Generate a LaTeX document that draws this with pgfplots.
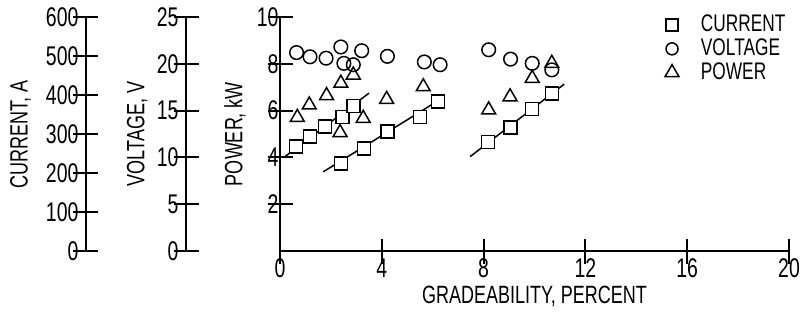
\documentclass[border=0pt]{standalone}
\usepackage{pgfplots}
\pgfplotsset{compat=1.18}
\usepackage{fontspec}
\setmainfont{Liberation Sans}[FakeStretch=0.72]
\begin{document}
\begin{tikzpicture}
\pgfplotsset{
  common/.style={
    scale only axis, height=117pt,
    tick align=inside, major tick length=12.5pt,
    tick style={line width=1pt, black},
    axis line style={-, line width=1pt},
    /pgf/number format/assume math mode=true,
    tick label style={font=\fontsize{13.5}{13.5}\selectfont},
    yticklabel style={xshift=9pt},
    xticklabel style={yshift=6pt},
    label style={font=\fontsize{12.5}{13}\selectfont},
  },
  sideaxis/.style={
    common, width=12.5pt, xmin=0, xmax=1,
    axis y line=left, hide x axis, y axis line style={-},
    yticklabel style={xshift=-3pt},
  },
  overlay/.style={
    scale only axis, width=254.5pt, height=117pt,
    at={(140pt,31pt)}, anchor=south west,
    xmin=0, xmax=20, hide axis, clip=false,
  },
}
\path[use as bounding box] (0,0) rectangle (401pt,156.5pt);
% current scale
\begin{axis}[sideaxis, at={(43pt,31pt)}, anchor=south west,
  ymin=0, ymax=600, ytick={0,100,...,600},
  ylabel={CURRENT, A},
  ylabel style={at={(axis description cs:-2.62,0.5)}, anchor=center}]
\end{axis}
% voltage scale
\begin{axis}[sideaxis, at={(93pt,31pt)}, anchor=south west,
  ymin=0, ymax=25, ytick={0,5,...,25},
  ylabel={VOLTAGE, V},
  ylabel style={at={(axis description cs:-1.95,0.5)}, anchor=center}]
\end{axis}
% main power axis
\begin{axis}[common, at={(140pt,31pt)}, anchor=south west, width=254.5pt,
  xmin=0, xmax=20, ymin=0, ymax=10,
  axis x line=bottom, axis y line=left,
  x axis line style={-}, y axis line style={-},
  xtick={0,4,...,20}, ytick={2,4,...,10},
  ylabel={POWER, kW},
  ylabel style={at={(axis description cs:-0.0884,0.5)}, anchor=center},
  xlabel={GRADEABILITY, PERCENT},
  xlabel style={at={(axis description cs:0.5,-0.192)}, anchor=center},
  clip=false,
  legend style={draw=none, fill=none, at={(axis description cs:0.744,1.035)},
    anchor=north west, font=\fontsize{12}{12}\selectfont,
    nodes={inner ysep=1pt},
    /tikz/every odd column/.append style={column sep=9pt}},
  legend cell align=left]
\addlegendimage{only marks, mark=square, mark size=3pt, line width=0.75pt, black}
\addlegendentry{CURRENT}
\addlegendimage{only marks, mark=o, mark size=3pt, line width=0.75pt, black}
\addlegendentry{VOLTAGE}
\addplot[only marks, mark=triangle, mark size=4pt, line width=0.75pt, black]
coordinates {(0.68,5.71) (1.15,6.24) (1.83,6.64) (2.39,7.17) (2.88,7.52)
 (2.36,5.06) (3.27,5.67) (4.19,6.48) (5.63,7.02) (8.2,6.03) (9.04,6.59)
 (9.91,7.38) (10.68,8.02)};
\addlegendentry{POWER}
\end{axis}
% current data
\begin{axis}[overlay, ymin=0, ymax=600]
\addplot[black, line width=0.75pt, no marks] coordinates {(0.15,240) (3.5,405)};
\addplot[black, line width=0.75pt, no marks] coordinates {(1.7,203) (6.25,387)};
\addplot[black, line width=0.75pt, no marks] coordinates {(7.47,242) (11.17,428)};
\addplot[only marks, mark=square*, mark size=3.25pt, line width=0.75pt, black, fill=white,
  mark options={fill=white}]
coordinates {(0.63,268) (1.18,293) (1.77,319) (2.46,343) (2.88,372)
 (2.39,225) (3.31,263) (4.22,306) (5.50,344) (6.20,383)
 (8.18,280) (9.06,317) (9.91,364) (10.68,404)};
\end{axis}
% voltage data
\begin{axis}[overlay, ymin=0, ymax=25]
\addplot[only marks, mark=o, mark size=3.4pt, line width=0.75pt, black]
coordinates {(0.65,21.2) (1.18,20.75) (1.81,20.6) (2.39,21.8) (2.51,20.05)
 (2.88,19.9) (3.21,21.4) (4.22,20.8) (5.67,20.2) (6.29,19.9) (8.2,21.5)
 (9.06,20.5) (9.91,20.05) (10.68,19.35)};
\end{axis}
\end{tikzpicture}
\end{document}
